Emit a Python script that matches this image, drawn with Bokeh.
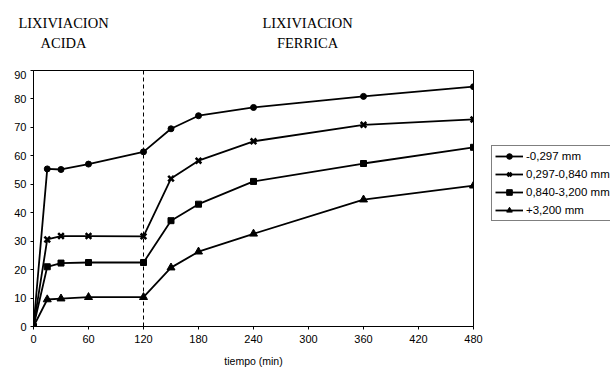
from bokeh.plotting import figure
from bokeh.layouts import column, row
from bokeh.models import Span, Legend, LegendItem, Range1d, FixedTicker
from bokeh.core.properties import value
from bokeh.embed import file_html
from bokeh.resources import INLINE

tiempo = [0, 15, 30, 60, 120, 150, 180, 240, 360, 480]
s_fina = [0, 55.4, 55.2, 57.1, 61.4, 69.5, 74.1, 77.0, 80.9, 84.3]
s_media = [0, 30.6, 31.8, 31.8, 31.7, 52.0, 58.3, 65.1, 70.9, 72.8]
s_gruesa = [0, 21.0, 22.3, 22.5, 22.5, 37.2, 43.0, 51.0, 57.3, 63.0]
s_mayor = [0, 9.5, 9.8, 10.3, 10.3, 20.7, 26.3, 32.6, 44.6, 49.5]
nombres = ["-0,297 mm", "0,297-0,840 mm", "0,840-3,200 mm", "+3,200 mm"]
marcadores = ["circle", "x", "square", "triangle"]
tamanos = [6, 8, 6, 8]
x_ticks = [0, 60, 120, 180, 240, 300, 360, 420, 480]
y_ticks = [0, 10, 20, 30, 40, 50, 60, 70, 80, 90]
fase_x = 120
fases = ["LIXIVIACION", "ACIDA", "LIXIVIACION", "FERRICA"]
fases_linea = [0, 1, 0, 1]
fases_col = [0, 0, 1, 1]

W = 610
TOP = 70
H = 299
WP = 488

# --- header with phase titles (screen-pixel coordinates) ---
h = figure(width=W, height=TOP, output_backend="svg", toolbar_location=None,
           x_range=Range1d(0, W), y_range=Range1d(0, TOP),
           x_axis_location=None, y_axis_location=None,
           min_border_left=0, min_border_right=0, min_border_top=0, min_border_bottom=0)
h.grid.visible = False
h.outline_line_color = None
h.text(x=[[63, 307][c] for c in fases_col], y=[48 - 20 * k for k in fases_linea], text=fases,
       text_align="center", text_baseline="middle",
       text_font=value("Liberation Serif"), text_font_size="14.5px", text_color="black")

# --- main chart ---
p = figure(width=WP, height=H, output_backend="svg", toolbar_location=None,
           x_range=Range1d(0, 480), y_range=Range1d(0, 90),
           min_border_left=33, min_border_right=15, min_border_top=0, min_border_bottom=42)
p.grid.visible = False
p.outline_line_color = "black"
p.outline_line_width = 1

for ax in (p.xaxis[0], p.yaxis[0]):
    ax.axis_line_color = "black"
    ax.major_tick_line_color = "black"
    ax.minor_tick_line_color = None
    ax.major_tick_out = 3
    ax.major_tick_in = 0
    ax.major_label_text_font = "Liberation Sans"
    ax.major_label_text_font_size = "11px"
    ax.major_label_text_color = "black"
p.xaxis.ticker = FixedTicker(ticks=x_ticks)
p.yaxis.ticker = FixedTicker(ticks=y_ticks)
p.xaxis.major_label_standoff = 5
p.yaxis.major_label_standoff = 4
p.xaxis.axis_label = "tiempo (min)"
p.xaxis.axis_label_text_font = "Liberation Sans"
p.xaxis.axis_label_text_font_style = "normal"
p.xaxis.axis_label_text_font_size = "10.5px"
p.xaxis.axis_label_standoff = 9
p.xaxis.axis_label_text_color = "black"

p.add_layout(Span(location=fase_x, dimension="height", line_color="black",
                  line_width=1, line_dash="4 3"))

# --- legend panel ---
lg = figure(width=W - WP, height=H, output_backend="svg", toolbar_location=None,
            x_range=Range1d(-2000, -1000), y_range=Range1d(-2000, -1000),
            x_axis_location=None, y_axis_location=None,
            min_border_left=0, min_border_right=0, min_border_top=0, min_border_bottom=0)
lg.grid.visible = False
lg.outline_line_color = None

items = []
for serie, nombre, m, s in zip([s_fina, s_media, s_gruesa, s_mayor], nombres, marcadores, tamanos):
    lw_m = 2.5 if m == "x" else 1
    p.line(tiempo, serie, line_color="black", line_width=1.8)
    p.scatter(tiempo, serie, marker=m, size=s, fill_color="black",
              line_color="black", line_width=lw_m)
    r1 = lg.line(tiempo, serie, line_color="black", line_width=1.8)
    r2 = lg.scatter(tiempo, serie, marker=m, size=s, fill_color="black",
                    line_color="black", line_width=lw_m)
    items.append(LegendItem(label=nombre, renderers=[r1, r2]))

legend = Legend(items=items, location=(3, 105), border_line_color="black",
                border_line_width=1, padding=3, spacing=4, margin=0,
                glyph_width=28, glyph_height=14, label_height=14, label_standoff=3,
                label_text_font="Liberation Sans", label_text_font_size="11.5px",
                label_text_color="black", background_fill_alpha=1)
lg.add_layout(legend, "center")

layout = column(h, row(p, lg, spacing=0), spacing=0)
open("out.html", "w").write(file_html(layout, INLINE))
